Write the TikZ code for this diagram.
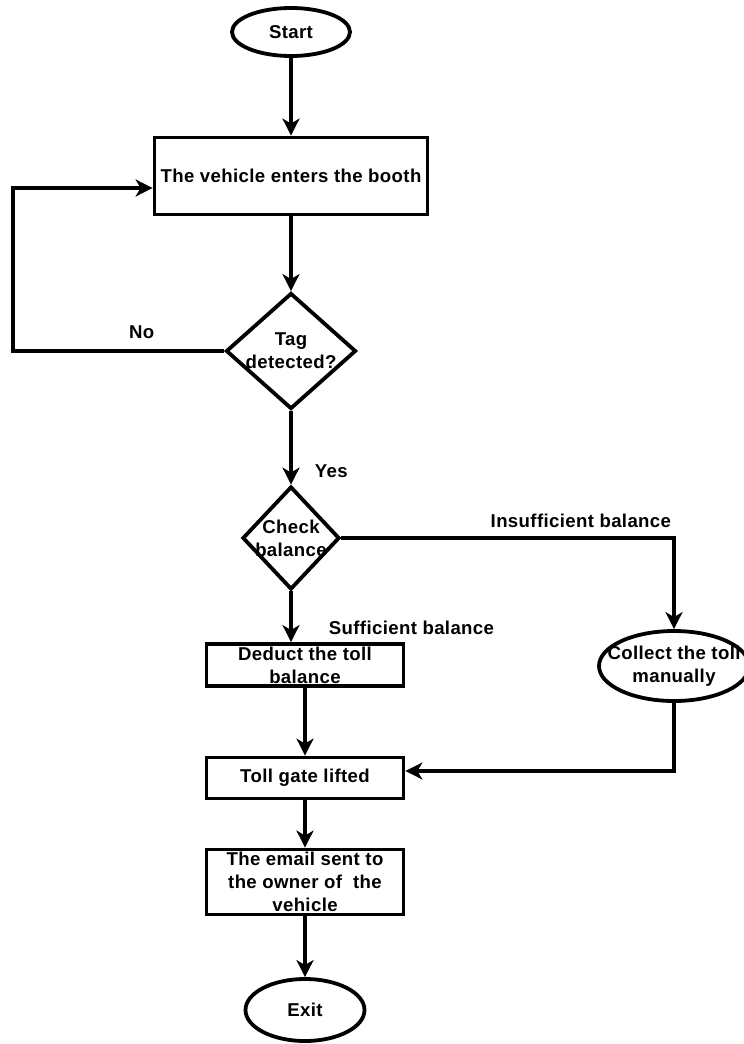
\documentclass[tikz,border=0pt]{standalone}
\usepackage{fontspec}
\setmainfont{Liberation Sans}[LetterSpace=2]
\usepackage{tikz}
\usetikzlibrary{arrows.meta,shapes.geometric}

\tikzset{
  line/.style={line width=3.8pt},
  box/.style={draw,line width=3.8pt,rectangle,inner sep=0pt,align=center},
  term/.style={draw,line width=3.8pt,ellipse,inner sep=0pt,align=center},
  dec/.style={draw,line width=3.8pt,diamond,inner sep=0pt,align=center},
  lbl/.style={inner sep=0pt}
}
\newcommand{\wide}[1]{\makebox[0pt]{#1}}

\begin{document}
\begin{tikzpicture}[x=1pt,y=-1pt,>={Stealth[length=17pt,width=17pt,inset=5pt]},
  every node/.append style={font=\bfseries\fontsize{18.6}{23}\selectfont}]

\path[use as bounding box,fill=white] (0,0) rectangle (744,1044);

\node[term,minimum width=118pt,minimum height=48pt] (start) at (291,32) {Start};

\node[box,minimum width=273pt,minimum height=77pt] (booth) at (291,176) {\wide{The vehicle enters the booth}};

\node[dec,minimum width=130pt,minimum height=116pt] (tag) at (291,351) {\wide{Tag}\\\wide{detected?}};

\node[dec,minimum width=97pt,minimum height=103pt] (check) at (291,538) {\wide{Check}\\\wide{balance}};

\node[box,minimum width=197pt,minimum height=42pt] (deduct) at (305,665) {\wide{Deduct the toll}\\\wide{balance}};

\node[term,minimum width=150pt,minimum height=70pt] (collect) at (674,666) {\wide{Collect the toll}\\\wide{manually}};

\node[box,minimum width=197pt,minimum height=41pt] (toll) at (305,778) {Toll gate lifted};

\node[box,minimum width=197pt,minimum height=65pt] (email) at (305,882) {\wide{The email sent to}\\\wide{the owner of\ \ the}\\\wide{vehicle}};

\node[term,minimum width=119pt,minimum height=62pt] (exit) at (305,1010) {Exit};

\coordinate (corner) at (13,188);

\draw[line,->] (start) -- (booth);

\draw[line,->] (booth) -- (tag);

\draw[line,->] (tag.west) -- node[lbl,pos=0.39,above=10pt] {No} (tag.west -| corner) -- (corner) -- (booth.west |- corner);

\draw[line,->] (tag) -- node[lbl,pos=0.82,right=22pt] {Yes} (check);

\draw[line,->] (check.east) -| node[lbl,pos=0.36,above=8pt] {Insufficient balance} (collect.north);

\draw[line,->] (check.south) -- node[lbl,pos=0.72,right=36pt] {Sufficient balance} (check.south |- deduct.north);

\draw[line,->] (deduct) -- (toll);

\draw[line,->] (collect.south) |- ([yshift=7pt]toll.east);

\draw[line,->] (toll) -- (email);

\draw[line,->] (email) -- (exit);

\end{tikzpicture}
\end{document}
